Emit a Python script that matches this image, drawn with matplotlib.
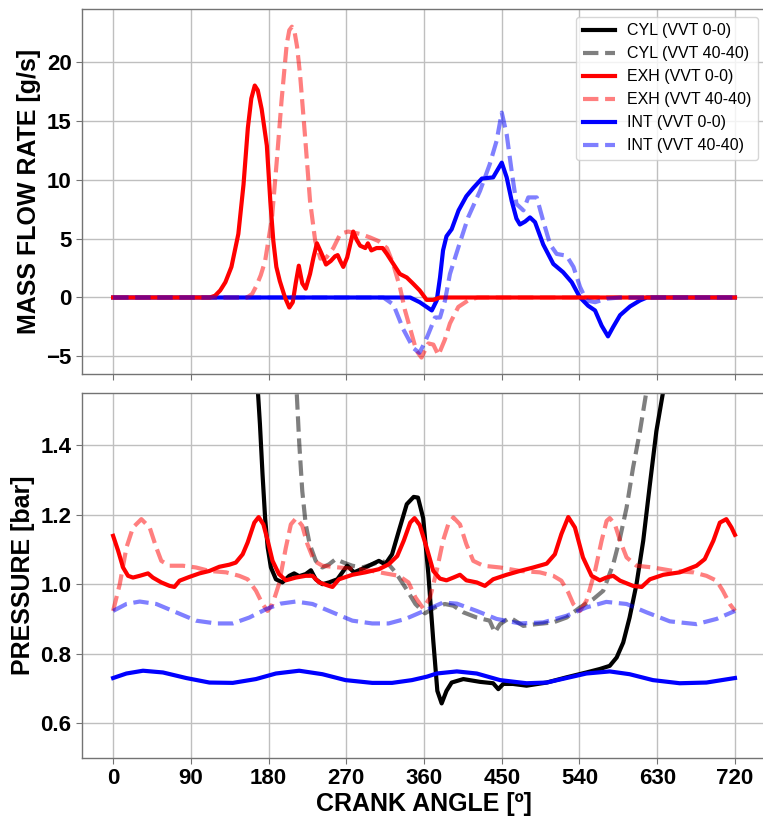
import matplotlib
matplotlib.use('Agg')
import matplotlib.pyplot as plt
from matplotlib.lines import Line2D

plt.rcParams['font.family'] = ['Liberation Sans', 'DejaVu Sans']

# ---- mass flow rate [g/s] ----
exh00_ang = [0, 112, 118, 124, 130, 137, 145, 151, 156, 160, 164, 167.5, 172, 178, 182, 185.5, 189,
             193, 199, 204, 208, 211.4, 215, 219, 223, 228, 232, 236, 241.5, 246.5, 252, 257, 260,
             263, 266.5, 271, 278, 282, 286, 292, 295, 299, 305, 312, 317, 324, 332, 340, 347, 355,
             363, 370.7, 378.5, 720]
exh00_mfr = [0, 0, 0.15, 0.6, 1.3, 2.6, 5.4, 9.6, 14.4, 16.9, 18.0, 17.6, 16.0, 12.9, 8.2, 4.8, 2.6,
             1.4, 0, -0.85, -0.4, 1.2, 2.7, 1.2, 0.75, 2.0, 3.4, 4.6, 3.7, 2.8, 3.1, 3.5, 3.6,
             3.1, 2.6, 3.4, 5.6, 4.9, 4.4, 4.2, 4.6, 4.0, 4.2, 4.2, 3.7, 2.9, 2.0, 1.7, 1.2, 0.6,
             -0.2, -0.2, 0, 0]

exh40_ang = [0, 155, 161, 166, 171, 176, 184, 189.5, 195, 201, 204, 207, 210, 213, 216.5, 222, 228,
             234, 240, 247, 255, 263, 272, 286, 297.5, 307, 317, 324, 332, 338, 345.7, 351, 357, 365,
             370.8, 376.6, 384, 390, 399.7, 411, 422, 720]
exh40_mfr = [0, 0, 0.3, 1.0, 1.9, 3.1, 6.8, 11.6, 16.7, 21.5, 22.7, 23.0, 22.6, 21.3, 18.9, 13.9, 8.2,
             4.8, 3.3, 3.4, 4.2, 5.4, 5.6, 5.4, 5.1, 4.8, 4.2, 2.9, 0.9, -1.1, -3.1, -4.5, -5.1, -3.9,
             -4.0, -4.9, -3.6, -2.2, -0.8, -0.25, 0, 0]

int00_ang = [0, 344, 355, 369, 374.7, 378.5, 382, 386, 392, 400, 409, 417, 427, 440, 444, 450, 455.7,
             461.5, 467, 471, 477, 482.7, 488.5, 498, 509.7, 521, 531, 540.6, 550, 558, 565.7, 573,
             579, 587, 598.5, 610, 618, 720]
int00_mfr = [0, 0, -0.4, -1.1, -0.25, 1.7, 4.0, 5.2, 5.8, 7.4, 8.6, 9.3, 10.1, 10.2, 10.7, 11.45, 10.2,
             8.2, 6.7, 6.2, 6.45, 6.8, 6.4, 4.5, 2.85, 2.15, 1.3, 0, -0.7, -1.1, -2.4, -3.3,
             -2.5, -1.5, -0.76, -0.25, 0, 0]

int40_ang = [0, 313, 324.5, 336, 347.6, 354.6, 361, 365, 372.7, 378.5, 384.3, 390, 399.7, 411, 424.8,
             436, 444, 450, 455.7, 461.5, 467, 475, 480.7, 490.5, 498, 506, 513.6, 525, 533, 540.6,
             548, 558, 571.5, 587, 720]
int40_mfr = [0, 0, -0.6, -2.7, -4.3, -4.7, -3.8, -3.1, -1.7, -1.7, -0.25, 2.0, 4.25, 6.8, 9.05,
             11.3, 13.3, 15.7, 13.85, 10.7, 7.95, 7.4, 8.5, 8.5, 6.5, 4.5, 3.7, 3.55, 2.6, 0.9,
             -0.25, -0.4, -0.1, 0, 0]

# ---- pressure [bar] ----
cyl00_ang = [0, 30, 60, 90, 120, 150, 160, 166, 170, 173, 176, 179, 182.7, 188.5, 196, 204, 209.6,
             215.4, 223, 229, 234.6, 242.3, 250, 259.6, 271, 279, 292, 307.7, 315, 323, 330.8, 340,
             348, 353, 359, 365, 370.7, 375.4, 380.4, 386, 392, 405.5, 424.7, 440, 446, 451.7, 463,
             478.7, 502, 525, 548, 563.6, 575, 583, 590.6, 598, 606, 613.8, 621.5, 629, 637, 645,
             680, 720]
cyl00_p = [30, 15, 6, 3.5, 2.5, 2.0, 1.8, 1.62, 1.46, 1.316, 1.19, 1.105, 1.048, 1.014, 1.005, 1.024,
           1.031, 1.023, 1.029, 1.04, 1.014, 1.0, 1.005, 1.014, 1.053, 1.034, 1.048, 1.067, 1.057,
           1.086, 1.153, 1.23, 1.251, 1.249, 1.19, 1.029, 0.837, 0.693, 0.657, 0.693, 0.717, 0.727,
           0.719, 0.715, 0.698, 0.713, 0.713, 0.708, 0.717, 0.732, 0.746, 0.756, 0.765, 0.789, 0.832,
           0.904, 1.0, 1.125, 1.287, 1.44, 1.556, 2.0, 5.0, 30]

cyl40_ang = [0, 60, 120, 180, 205, 210, 212.6, 215.4, 219, 223, 227.6, 234.6, 242.3, 250, 257.7, 267,
             277, 288.5, 300, 311.5, 319, 327, 338.5, 350, 361, 372.7, 384, 394, 405.5, 421, 436, 442,
             448, 459.5, 475, 490, 509.6, 525, 540.5, 556, 567.5, 579, 587, 594.5, 602, 610, 617.6,
             625, 660, 720]
cyl40_p = [40, 12, 4, 2.4, 2.0, 1.7, 1.55, 1.41, 1.268, 1.172, 1.115, 1.067, 1.048, 1.057, 1.072,
           1.062, 1.053, 1.048, 1.057, 1.067, 1.057, 1.034, 0.99, 0.943, 0.916, 0.933, 0.943, 0.938,
           0.919, 0.904, 0.895, 0.861, 0.885, 0.904, 0.88, 0.885, 0.89, 0.904, 0.933, 0.957, 0.981,
           1.057, 1.134, 1.22, 1.335, 1.44, 1.556, 2.0, 5.0, 40]

exh00p_ang = [0, 5.8, 11.5, 17.3, 23, 30.8, 40.4, 46, 55.8, 65.4, 71, 77, 88.5, 100, 111.5, 123, 134.6,
              142, 150, 155.8, 163.5, 168.5, 174, 179, 184.6, 192, 200, 211.5, 223, 230.8, 238.5, 250,
              254, 261.5, 277, 292, 307.7, 319, 329, 336.5, 344, 349, 355, 363, 370.7, 378.4, 386, 394,
              401.6, 409, 421, 430.5, 440, 455.6, 471, 486.5, 502, 511.5, 519, 527, 534.7, 544, 554,
              563.6, 571, 579, 587, 602, 612, 621.5, 637, 656, 675.5, 685, 695, 702.5, 710, 716, 720]
exh00_p = [1.139, 1.096, 1.048, 1.024, 1.019, 1.024, 1.031, 1.019, 1.005, 0.995, 0.992, 1.01, 1.021,
           1.031, 1.038, 1.05, 1.056, 1.062, 1.086, 1.12, 1.177, 1.193, 1.172, 1.125, 1.067, 1.029,
           1.011, 1.019, 1.024, 1.024, 1.005, 0.995, 0.992, 1.014, 1.027, 1.034, 1.043, 1.057, 1.081,
           1.125, 1.177, 1.19, 1.17, 1.105, 1.038, 1.016, 1.011, 1.019, 1.027, 1.011, 1.005, 0.995,
           1.014, 1.027, 1.038, 1.048, 1.059, 1.086, 1.144, 1.193, 1.163, 1.077, 1.024, 1.011, 1.019,
           1.024, 1.01, 0.995, 0.992, 1.014, 1.027, 1.034, 1.053, 1.072, 1.125, 1.177, 1.187, 1.163,
           1.142]

exh40p_ang = [0, 7.7, 15.4, 23, 32.7, 42.3, 50, 55.8, 65.4, 80.8, 96, 111.5, 130.8, 146, 155.8, 165.4,
              173, 178.8, 184.6, 192, 200, 205.8, 212, 219, 225, 232.7, 242.3, 261.5, 284.6, 300, 315,
              330.8, 342, 350, 359, 367, 374.6, 382, 388, 394, 401.6, 409, 417, 428.6, 448, 471, 494,
              509.6, 519, 527, 532.8, 540.5, 548, 558, 565.6, 571.4, 575, 581, 587, 594.5, 606, 625,
              648.5, 671.7, 687, 698.7, 706, 714, 720]
exh40_p = [0.923, 1.0, 1.105, 1.163, 1.187, 1.163, 1.105, 1.067, 1.053, 1.053, 1.048, 1.038, 1.034,
           1.024, 1.014, 0.981, 0.943, 0.923, 0.943, 1.0, 1.105, 1.172, 1.19, 1.168, 1.115, 1.067,
           1.053, 1.048, 1.043, 1.038, 1.031, 1.024, 1.005, 0.962, 0.93, 0.962, 1.038, 1.125, 1.172,
           1.192, 1.172, 1.115, 1.067, 1.053, 1.048, 1.038, 1.034, 1.024, 1.01, 0.976, 0.943, 0.923,
           0.952, 1.038, 1.125, 1.182, 1.19, 1.172, 1.125, 1.077, 1.053, 1.048, 1.038, 1.034, 1.024,
           1.01, 0.981, 0.943, 0.923]

int00p_ang = [0, 15.4, 34.6, 57.7, 84.6, 111.5, 138.5, 165.4, 188.5, 215.4, 242.3, 269, 300, 323, 346,
              363.5, 374.6, 398, 421, 448, 478.7, 502, 525, 548, 575, 598, 625, 656, 687, 720]
int00_p = [0.73, 0.743, 0.751, 0.746, 0.73, 0.717, 0.716, 0.727, 0.743, 0.751, 0.741, 0.724, 0.716,
           0.716, 0.724, 0.734, 0.743, 0.749, 0.743, 0.724, 0.715, 0.717, 0.73, 0.743, 0.749, 0.741,
           0.724, 0.715, 0.717, 0.73]

int40p_ang = [0, 15.4, 30.8, 50, 73, 96, 119, 138.5, 157.7, 177, 194, 211.5, 230.8, 254, 277, 300, 319,
              338.5, 360, 382, 398, 421, 444, 471, 498, 525, 548, 571, 594.5, 617.6, 644.6, 675.5,
              698.7, 720]
int40_p = [0.923, 0.943, 0.95, 0.943, 0.919, 0.895, 0.887, 0.887, 0.904, 0.928, 0.944, 0.95, 0.943,
           0.919, 0.895, 0.887, 0.887, 0.9, 0.923, 0.947, 0.944, 0.923, 0.9, 0.887, 0.89, 0.909, 0.933,
           0.949, 0.943, 0.919, 0.893, 0.885, 0.9, 0.923]

xticks = [0, 90, 180, 270, 360, 450, 540, 630, 720]

fig = plt.figure(figsize=(7.63, 8.19), dpi=100)
ax1 = fig.add_axes([0.1075, 0.5433, 0.8965, 0.4457])
ax2 = fig.add_axes([0.1075, 0.0745, 0.8965, 0.4457], sharex=ax1)

lw = 3
ax1.plot(int00_ang, int00_mfr, color='blue', lw=lw)
ax1.plot(exh00_ang, exh00_mfr, color='red', lw=lw)
ax1.plot(exh40_ang, exh40_mfr, color='red', lw=lw, ls='--', alpha=0.5)
ax1.plot(int40_ang, int40_mfr, color='blue', lw=lw, ls='--', alpha=0.5)

ax2.plot(cyl00_ang, cyl00_p, color='black', lw=lw)
ax2.plot(cyl40_ang, cyl40_p, color='black', lw=lw, ls='--', alpha=0.5)
ax2.plot(exh40p_ang, exh40_p, color='red', lw=lw, ls='--', alpha=0.5)
ax2.plot(exh00p_ang, exh00_p, color='red', lw=lw)
ax2.plot(int00p_ang, int00_p, color='blue', lw=lw)
ax2.plot(int40p_ang, int40_p, color='blue', lw=lw, ls='--', alpha=0.5)

ax2.set_xlim(-36, 756)
ax2.set_xticks(xticks)
ax2.set_ylim(0.5, 1.55)
ax1.set_ylim(-6.5, 24.5)
ax1.set_yticks([-5, 0, 5, 10, 15, 20])
ax2.set_yticks([0.6, 0.8, 1.0, 1.2, 1.4])

for ax in (ax1, ax2):
    ax.grid(True, color='0.75', lw=1.0)
    ax.set_axisbelow(True)
    for s in ax.spines.values():
        s.set_color('0.45')
        s.set_linewidth(1.0)
    ax.tick_params(length=4, color='0.45', labelsize=16)
    for t in ax.get_xticklabels() + ax.get_yticklabels():
        t.set_fontweight('bold')

ax1.tick_params(labelbottom=False)
ax1.set_ylabel('MASS FLOW RATE [g/s]', fontsize=18, fontweight='bold')
ax2.set_ylabel('PRESSURE [bar]', fontsize=18, fontweight='bold')
ax2.set_xlabel('CRANK ANGLE [º]', fontsize=18, fontweight='bold', labelpad=2)

handles = [
    Line2D([], [], color='black', lw=lw),
    Line2D([], [], color='black', lw=lw, ls='--', alpha=0.5),
    Line2D([], [], color='red', lw=lw),
    Line2D([], [], color='red', lw=lw, ls='--', alpha=0.5),
    Line2D([], [], color='blue', lw=lw),
    Line2D([], [], color='blue', lw=lw, ls='--', alpha=0.5),
]
labels = ['CYL (VVT 0-0)', 'CYL (VVT 40-40)', 'EXH (VVT 0-0)', 'EXH (VVT 40-40)',
          'INT (VVT 0-0)', 'INT (VVT 40-40)']
ax1.legend(handles, labels, loc='upper right', fontsize=11.5)

fig.savefig('out.png', dpi=100)
